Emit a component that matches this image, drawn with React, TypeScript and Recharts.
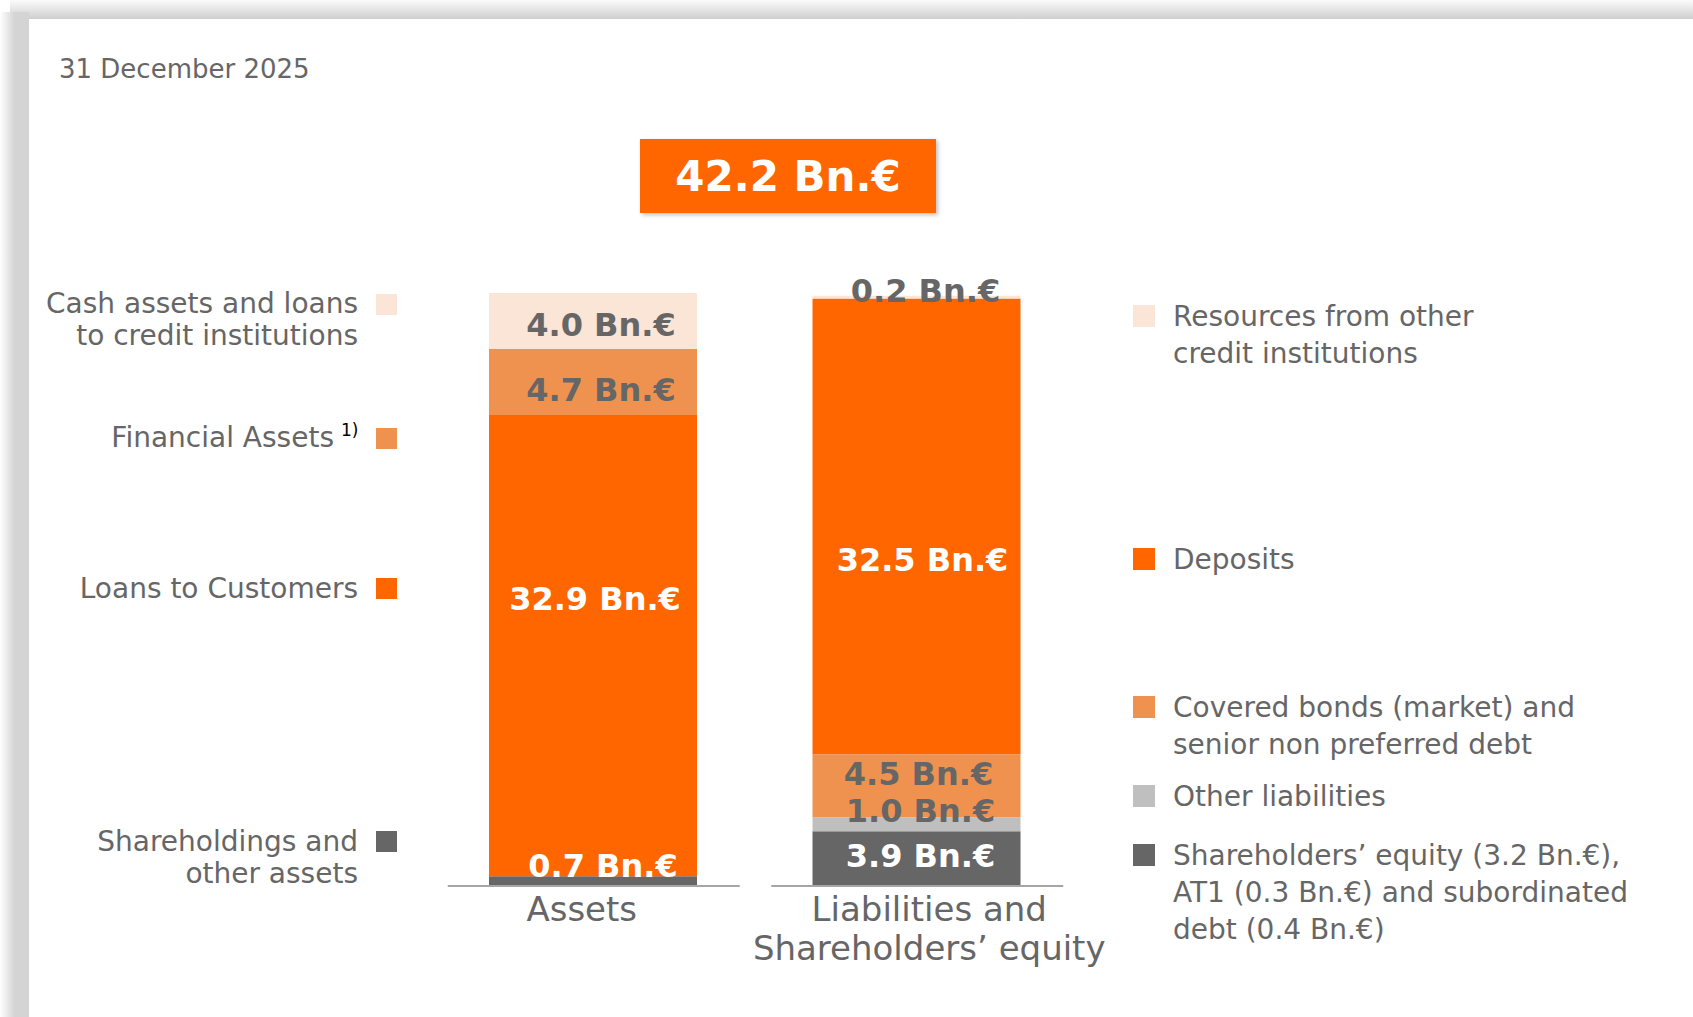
import React from 'react'
import { BarChart, Bar, XAxis, YAxis, LabelList } from 'recharts'

// balance sheet, 31 December 2025 (Bn.€)
const dateLabel = '31 December 2025'
const totalLabel = '42.2 Bn.€'
const categories = ['Assets', 'Liabilities and\nShareholders’ equity']

// stacks are listed bottom -> top
const assetKeys = ['shareholdings', 'loans', 'financial', 'cash']
const assetValues = [0.7, 32.9, 4.7, 4.0]
const liabilityKeys = ['equity', 'other', 'covered', 'deposits', 'resources']
const liabilityValues = [3.9, 1.0, 4.5, 32.5, 0.2]

const assetLegendKeys = ['cash', 'financial', 'loans', 'shareholdings']
const assetLegendLabels = [
  ['Cash assets and loans', 'to credit institutions'],
  ['Financial Assets'],
  ['Loans to Customers'],
  ['Shareholdings and', 'other assets'],
]
const assetLegendNotes = ['', '1)', '', '']

const liabilityLegendKeys = ['resources', 'deposits', 'covered', 'other', 'equity']
const liabilityLegendLabels = [
  ['Resources from other', 'credit institutions'],
  ['Deposits'],
  ['Covered bonds (market) and', 'senior non preferred debt'],
  ['Other liabilities'],
  ['Shareholders’ equity (3.2 Bn.€),', 'AT1 (0.3 Bn.€) and subordinated', 'debt (0.4 Bn.€)'],
]

const font = '"DejaVu Sans", Verdana, sans-serif'
const textGrey = '#666666'

const colors: Record<string, string> = {
  shareholdings: '#666666',
  loans: '#FF6600',
  financial: '#F0924F',
  cash: '#FBE5D6',
  equity: '#666666',
  other: '#BFBFBF',
  covered: '#F0924F',
  deposits: '#FF6600',
  resources: '#FBE5D6',
}

// label placement inside the segments
const labelStyle: Record<string, { fill: string; dx: number; dy: number }> = {
  cash: { fill: textGrey, dx: 8, dy: 4 },
  financial: { fill: textGrey, dx: 8, dy: 8 },
  loans: { fill: '#ffffff', dx: 2, dy: -47 },
  shareholdings: { fill: '#ffffff', dx: 10, dy: -15 },
  resources: { fill: textGrey, dx: 9, dy: -6 },
  deposits: { fill: '#ffffff', dx: 6, dy: 34 },
  covered: { fill: textGrey, dx: 2, dy: -12 },
  other: { fill: textGrey, dx: 4, dy: -13 },
  equity: { fill: '#ffffff', dx: 4, dy: -3 },
}

const tickOffsets = [-11, 13]
const leftLegendLayout = [
  { y: 313, sw: 294 },
  { y: 447, sw: 428 },
  { y: 598, sw: 578 },
  { y: 851, sw: 831 },
]
const rightLegendLayout = [
  { y: 326, sw: 305 },
  { y: 569, sw: 548 },
  { y: 717, sw: 696 },
  { y: 806, sw: 785 },
  { y: 865, sw: 844 },
]

const chartData = categories.map((name, i) => {
  const row: any = { name }
  assetKeys.forEach((k, j) => (row[k] = i === 0 ? assetValues[j] : 0))
  liabilityKeys.forEach((k, j) => (row[k] = i === 1 ? liabilityValues[j] : 0))
  return row
})

const allKeys = [...assetKeys, ...liabilityKeys]

function ValueLabel(props: any, key: string) {
  const { x, y, width, height, value } = props
  if (!value) return null
  const s = labelStyle[key]
  return (
    <text
      x={Number(x) + Number(width) / 2 + s.dx}
      y={Number(y) + Number(height) / 2 + s.dy}
      textAnchor="middle"
      dominantBaseline="central"
      fill={s.fill}
      fontSize={32}
      fontWeight="bold"
      fontFamily={font}
    >
      {`${Number(value).toFixed(1)} Bn.€`}
    </text>
  )
}

function CategoryTick(props: any) {
  const { x, y, payload, index } = props
  const lines = String(payload.value).split('\n')
  const cx = x + tickOffsets[index]
  return (
    <g>
      <line x1={x - 145} x2={x + 147} y1={y} y2={y} stroke="#A6A6A6" strokeWidth={2} />
      {lines.map((l, i) => (
        <text key={i} x={cx} y={y + 35 + i * 39} textAnchor="middle" fill={textGrey} fontSize={34} fontFamily={font}>
          {l}
        </text>
      ))}
    </g>
  )
}

export default function App() {
  return (
    <div style={{ position: 'absolute', left: 0, top: 0, width: 1693, height: 1017, background: '#fff', overflow: 'hidden', fontFamily: font }}>
      <div style={{ position: 'absolute', left: 10, top: 0, width: 1683, height: 19, background: 'linear-gradient(#fbfbfb, #cfcfcf)' }} />
      <div style={{ position: 'absolute', left: 0, top: 12, width: 29, height: 1005, background: 'linear-gradient(to right, #ffffff 0%, #d4d4d4 50%, #d4d4d4 100%)' }} />
      <div style={{ position: 'absolute', left: 29, top: 19, right: 0, bottom: 0, background: '#fff' }} />

      <div style={{ position: 'absolute', left: 0, top: 0 }}>
        <BarChart width={1693} height={1017} data={chartData} margin={{ top: 293, right: 615, bottom: 31, left: 431 }}>
          <XAxis dataKey="name" axisLine={false} tickLine={false} tickSize={0} tickMargin={0} height={100} interval={0} tick={<CategoryTick />} />
          <YAxis hide domain={[0, 'dataMax']} />
          {allKeys.map((k) => (
            <Bar key={k} dataKey={k} stackId="a" fill={colors[k]} barSize={208} isAnimationActive={false}>
              <LabelList dataKey={k} content={(p: any) => ValueLabel(p, k)} />
            </Bar>
          ))}
        </BarChart>
      </div>

      <svg width={1693} height={1017} style={{ position: 'absolute', left: 0, top: 0, pointerEvents: 'none' }}>
        <text x={59} y={78} fill={textGrey} fontSize={26} fontFamily={font}>
          {dateLabel}
        </text>

        {assetLegendKeys.map((k, i) => (
          <g key={k}>
            <rect x={376} y={leftLegendLayout[i].sw} width={21} height={21} fill={colors[k]} />
            {assetLegendLabels[i].map((l, j) => (
              <text key={j} x={assetLegendNotes[i] ? 334 : 358} y={leftLegendLayout[i].y + j * 32} textAnchor="end" fill={textGrey} fontSize={28} fontFamily={font}>
                {l}
              </text>
            ))}
            {assetLegendNotes[i] && (
              <text x={341} y={leftLegendLayout[i].y - 11} fill="#000" fontSize={17} fontFamily={font}>
                {assetLegendNotes[i]}
              </text>
            )}
          </g>
        ))}

        {liabilityLegendKeys.map((k, i) => (
          <g key={k}>
            <rect x={1133} y={rightLegendLayout[i].sw} width={22} height={22} fill={colors[k]} />
            {liabilityLegendLabels[i].map((l, j) => (
              <text key={j} x={1173} y={rightLegendLayout[i].y + j * 37} fill={textGrey} fontSize={28} fontFamily={font}>
                {l}
              </text>
            ))}
          </g>
        ))}
      </svg>

      <div
        style={{
          position: 'absolute',
          left: 640,
          top: 139,
          width: 296,
          height: 74,
          background: '#FF6600',
          color: '#fff',
          fontWeight: 'bold',
          fontSize: 42,
          display: 'flex',
          alignItems: 'center',
          justifyContent: 'center',
          boxShadow: '2px 2px 4px rgba(0,0,0,0.25)',
        }}
      >
        {totalLabel}
      </div>
    </div>
  )
}
